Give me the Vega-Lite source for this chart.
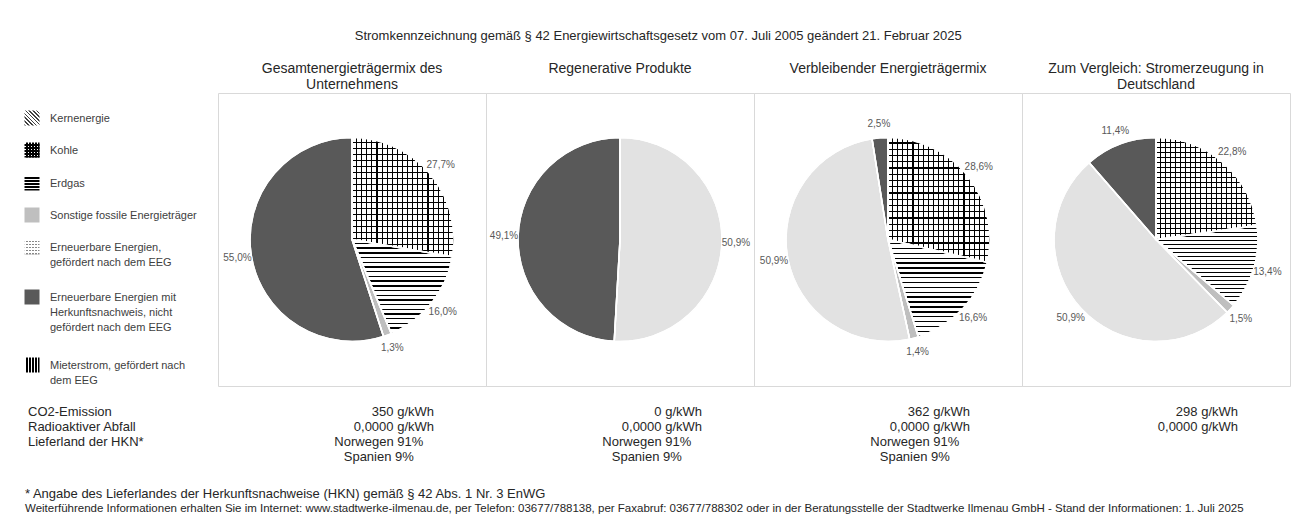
{
  "$schema": "https://vega.github.io/schema/vega-lite/v6.json",
  "padding": {"left": 8, "top": 29, "right": 0, "bottom": 0},
  "background": "white",
  "title": {"text": "Stromkennzeichnung gemäß § 42 Energiewirtschaftsgesetz vom 07. Juli 2005 geändert 21. Februar 2025", "anchor": "middle", "font": "Liberation Sans", "fontSize": 13, "fontWeight": "normal", "color": "#262626", "offset": 11.5, "dx": 9},
  "config": {
    "view": {"stroke": "#d9d9d9", "strokeWidth": 1},
    "font": "Liberation Sans",
    "locale": {"number": {"decimal": ",", "thousands": ".", "grouping": [3], "currency": ["", " €"]}}
  },
  "datasets": {
    "titles": [
      {"panel": "p1", "title": "Gesamtenergieträgermix des\nUnternehmens"},
      {"panel": "p2", "title": "Regenerative Produkte"},
      {"panel": "p3", "title": "Verbleibender Energieträgermix"},
      {"panel": "p4", "title": "Zum Vergleich: Stromerzeugung in\nDeutschland"}
    ],
    "mix": [
      {"panel": "p1", "cat": "Kohle", "ord": 2, "share": 0.277},
      {"panel": "p1", "cat": "Erdgas", "ord": 3, "share": 0.16},
      {"panel": "p1", "cat": "Sonstige", "ord": 4, "share": 0.013},
      {"panel": "p1", "cat": "HKN", "ord": 6, "share": 0.55},
      {"panel": "p2", "cat": "EEG", "ord": 5, "share": 0.509},
      {"panel": "p2", "cat": "HKN", "ord": 6, "share": 0.491},
      {"panel": "p3", "cat": "Kohle", "ord": 2, "share": 0.286},
      {"panel": "p3", "cat": "Erdgas", "ord": 3, "share": 0.166},
      {"panel": "p3", "cat": "Sonstige", "ord": 4, "share": 0.014},
      {"panel": "p3", "cat": "EEG", "ord": 5, "share": 0.509},
      {"panel": "p3", "cat": "HKN", "ord": 6, "share": 0.025},
      {"panel": "p4", "cat": "Kohle", "ord": 2, "share": 0.228},
      {"panel": "p4", "cat": "Erdgas", "ord": 3, "share": 0.134},
      {"panel": "p4", "cat": "Sonstige", "ord": 4, "share": 0.015},
      {"panel": "p4", "cat": "EEG", "ord": 5, "share": 0.509},
      {"panel": "p4", "cat": "HKN", "ord": 6, "share": 0.114}
    ],
    "legend": [
      {"cat": "Kern", "ord": 1, "label": "Kernenergie"},
      {"cat": "Kohle", "ord": 2, "label": "Kohle"},
      {"cat": "Erdgas", "ord": 3, "label": "Erdgas"},
      {"cat": "Sonstige", "ord": 4, "label": "Sonstige fossile Energieträger"},
      {"cat": "EEG", "ord": 5, "label": "Erneuerbare Energien,\ngefördert nach dem EEG"},
      {"cat": "HKN", "ord": 6, "label": "Erneuerbare Energien mit\nHerkunftsnachweis, nicht\ngefördert nach dem EEG"},
      {"cat": "Mieter", "ord": 7, "label": "Mieterstrom, gefördert nach\ndem EEG"}
    ],
    "rowlabels": [
      {"row": "co2", "label": "CO2-Emission"},
      {"row": "rad", "label": "Radioaktiver Abfall"},
      {"row": "land1", "label": "Lieferland der HKN*"}
    ],
    "table": [
      {"panel": "p1", "row": "co2", "text": "350 g/kWh"},
      {"panel": "p1", "row": "rad", "text": "0,0000 g/kWh"},
      {"panel": "p1", "row": "land1", "text": "Norwegen 91%"},
      {"panel": "p1", "row": "land2", "text": "Spanien 9%"},
      {"panel": "p2", "row": "co2", "text": "0 g/kWh"},
      {"panel": "p2", "row": "rad", "text": "0,0000 g/kWh"},
      {"panel": "p2", "row": "land1", "text": "Norwegen 91%"},
      {"panel": "p2", "row": "land2", "text": "Spanien 9%"},
      {"panel": "p3", "row": "co2", "text": "362 g/kWh"},
      {"panel": "p3", "row": "rad", "text": "0,0000 g/kWh"},
      {"panel": "p3", "row": "land1", "text": "Norwegen 91%"},
      {"panel": "p3", "row": "land2", "text": "Spanien 9%"},
      {"panel": "p4", "row": "co2", "text": "298 g/kWh"},
      {"panel": "p4", "row": "rad", "text": "0,0000 g/kWh"}
    ],
    "notes": [
      {"line": "f1", "text": "* Angabe des Lieferlandes der Herkunftsnachweise (HKN) gemäß § 42 Abs. 1 Nr. 3 EnWG"},
      {"line": "f2", "text": "Weiterführende Informationen erhalten Sie im Internet: www.stadtwerke-ilmenau.de, per Telefon: 03677/788138, per Faxabruf: 03677/788302 oder in der Beratungsstelle der Stadtwerke Ilmenau GmbH - Stand der Informationen: 1. Juli 2025"}
    ]
  },
  "bounds": "full",
  "spacing": 0,
  "vconcat": [
    {
      "width": 1282,
      "height": 30,
      "view": {"stroke": null},
      "data": {"name": "titles"},
      "mark": {"type": "text", "fontSize": 14, "lineBreak": "\n", "lineHeight": 16, "baseline": "middle", "align": "center", "color": "#262626"},
      "encoding": {
        "x": {"field": "panel", "type": "nominal", "axis": null, "scale": {"type": "band", "domain": ["p1", "p2", "p3", "p4"], "paddingInner": 0, "paddingOuter": 0.3918, "align": 1}},
        "text": {"field": "title"}
      }
    },
    {
      "hconcat": [
        {
          "width": 210,
          "height": 293,
          "view": {"stroke": null},
          "data": {"name": "legend"},
          "resolve": {"scale": {"x": "independent"}},
          "layer": [
            {
              "mark": {"type": "point", "shape": "square", "size": 225, "filled": true, "opacity": 1, "strokeWidth": 0},
              "encoding": {
                "x": {"datum": "icon", "type": "nominal", "axis": null, "scale": {"type": "point", "domain": ["icon"], "align": 0.1143}},
                "y": {"field": "ord", "type": "quantitative", "axis": null, "scale": {"domain": [1, 2, 3, 4, 5, 6, 7], "range": [25, 57, 90, 122, 154, 204, 272], "zero": false, "nice": false}},
                "color": {
                  "condition": [
                    {"test": "datum.cat === 'Kern'", "value": {"gradient": "linear", "x1": 1, "y1": 0, "x2": 0, "y2": 1, "stops": [
                      {"offset": 0, "color": "#fff"}, {"offset": 0.075, "color": "#fff"}, {"offset": 0.075, "color": "#404040"}, {"offset": 0.125, "color": "#404040"},
                      {"offset": 0.125, "color": "#fff"}, {"offset": 0.2, "color": "#fff"}, {"offset": 0.2, "color": "#404040"}, {"offset": 0.25, "color": "#404040"},
                      {"offset": 0.25, "color": "#fff"}, {"offset": 0.325, "color": "#fff"}, {"offset": 0.325, "color": "#404040"}, {"offset": 0.375, "color": "#404040"},
                      {"offset": 0.375, "color": "#fff"}, {"offset": 0.45, "color": "#fff"}, {"offset": 0.45, "color": "#404040"}, {"offset": 0.5, "color": "#404040"},
                      {"offset": 0.5, "color": "#fff"}, {"offset": 0.575, "color": "#fff"}, {"offset": 0.575, "color": "#404040"}, {"offset": 0.625, "color": "#404040"},
                      {"offset": 0.625, "color": "#fff"}, {"offset": 0.7, "color": "#fff"}, {"offset": 0.7, "color": "#404040"}, {"offset": 0.75, "color": "#404040"},
                      {"offset": 0.75, "color": "#fff"}, {"offset": 0.825, "color": "#fff"}, {"offset": 0.825, "color": "#404040"}, {"offset": 0.875, "color": "#404040"},
                      {"offset": 0.875, "color": "#fff"}, {"offset": 0.95, "color": "#fff"}, {"offset": 0.95, "color": "#404040"}, {"offset": 1, "color": "#404040"}]}},
                    {"test": "datum.cat === 'Kohle' || datum.cat === 'Erdgas'", "value": {"gradient": "linear", "x1": 0, "y1": 0, "x2": 0, "y2": 1, "stops": [
                      {"offset": 0, "color": "#fff"}, {"offset": 0.13, "color": "#fff"}, {"offset": 0.13, "color": "#000"}, {"offset": 0.2, "color": "#000"},
                      {"offset": 0.2, "color": "#fff"}, {"offset": 0.33, "color": "#fff"}, {"offset": 0.33, "color": "#000"}, {"offset": 0.4, "color": "#000"},
                      {"offset": 0.4, "color": "#fff"}, {"offset": 0.53, "color": "#fff"}, {"offset": 0.53, "color": "#000"}, {"offset": 0.6, "color": "#000"},
                      {"offset": 0.6, "color": "#fff"}, {"offset": 0.73, "color": "#fff"}, {"offset": 0.73, "color": "#000"}, {"offset": 0.8, "color": "#000"},
                      {"offset": 0.8, "color": "#fff"}, {"offset": 0.93, "color": "#fff"}, {"offset": 0.93, "color": "#000"}, {"offset": 1, "color": "#000"}]}},
                    {"test": "datum.cat === 'Sonstige'", "value": "#bfbfbf"},
                    {"test": "datum.cat === 'EEG'", "value": {"gradient": "linear", "x1": 0, "y1": 0, "x2": 0, "y2": 1, "stops": [
                      {"offset": 0, "color": "#fff"}, {"offset": 0.13, "color": "#fff"}, {"offset": 0.13, "color": "#888"}, {"offset": 0.2, "color": "#888"},
                      {"offset": 0.2, "color": "#fff"}, {"offset": 0.33, "color": "#fff"}, {"offset": 0.33, "color": "#888"}, {"offset": 0.4, "color": "#888"},
                      {"offset": 0.4, "color": "#fff"}, {"offset": 0.53, "color": "#fff"}, {"offset": 0.53, "color": "#888"}, {"offset": 0.6, "color": "#888"},
                      {"offset": 0.6, "color": "#fff"}, {"offset": 0.73, "color": "#fff"}, {"offset": 0.73, "color": "#888"}, {"offset": 0.8, "color": "#888"},
                      {"offset": 0.8, "color": "#fff"}, {"offset": 0.93, "color": "#fff"}, {"offset": 0.93, "color": "#888"}, {"offset": 1, "color": "#888"}]}},
                    {"test": "datum.cat === 'Mieter'", "value": {"gradient": "linear", "x1": 0, "y1": 0, "x2": 1, "y2": 0, "stops": [
                      {"offset": 0, "color": "#fff"}, {"offset": 0.12, "color": "#fff"}, {"offset": 0.12, "color": "#000"}, {"offset": 0.2, "color": "#000"},
                      {"offset": 0.2, "color": "#fff"}, {"offset": 0.32, "color": "#fff"}, {"offset": 0.32, "color": "#000"}, {"offset": 0.4, "color": "#000"},
                      {"offset": 0.4, "color": "#fff"}, {"offset": 0.52, "color": "#fff"}, {"offset": 0.52, "color": "#000"}, {"offset": 0.6, "color": "#000"},
                      {"offset": 0.6, "color": "#fff"}, {"offset": 0.72, "color": "#fff"}, {"offset": 0.72, "color": "#000"}, {"offset": 0.8, "color": "#000"},
                      {"offset": 0.8, "color": "#fff"}, {"offset": 0.92, "color": "#fff"}, {"offset": 0.92, "color": "#000"}, {"offset": 1, "color": "#000"}]}}
                  ],
                  "value": "#595959"
                }
              }
            },
            {
              "mark": {"type": "point", "shape": "square", "size": 225, "filled": true, "opacity": 1, "strokeWidth": 0},
              "encoding": {
                "x": {"datum": "icon", "type": "nominal", "axis": null, "scale": {"type": "point", "domain": ["icon"], "align": 0.1143}},
                "y": {"field": "ord", "type": "quantitative"},
                "color": {
                  "condition": [
                    {"test": "datum.cat === 'Kohle'", "value": {"gradient": "linear", "x1": 0, "y1": 0, "x2": 1, "y2": 0, "stops": [
                      {"offset": 0, "color": "rgba(0,0,0,0)"}, {"offset": 0.13, "color": "rgba(0,0,0,0)"}, {"offset": 0.13, "color": "#000"}, {"offset": 0.2, "color": "#000"},
                      {"offset": 0.2, "color": "rgba(0,0,0,0)"}, {"offset": 0.33, "color": "rgba(0,0,0,0)"}, {"offset": 0.33, "color": "#000"}, {"offset": 0.4, "color": "#000"},
                      {"offset": 0.4, "color": "rgba(0,0,0,0)"}, {"offset": 0.53, "color": "rgba(0,0,0,0)"}, {"offset": 0.53, "color": "#000"}, {"offset": 0.6, "color": "#000"},
                      {"offset": 0.6, "color": "rgba(0,0,0,0)"}, {"offset": 0.73, "color": "rgba(0,0,0,0)"}, {"offset": 0.73, "color": "#000"}, {"offset": 0.8, "color": "#000"},
                      {"offset": 0.8, "color": "rgba(0,0,0,0)"}, {"offset": 0.93, "color": "rgba(0,0,0,0)"}, {"offset": 0.93, "color": "#000"}, {"offset": 1, "color": "#000"}]}},
                    {"test": "datum.cat === 'EEG'", "value": {"gradient": "linear", "x1": 0, "y1": 0, "x2": 1, "y2": 0, "stops": [
                      {"offset": 0, "color": "#fff"}, {"offset": 0.13, "color": "#fff"}, {"offset": 0.13, "color": "rgba(0,0,0,0)"}, {"offset": 0.2, "color": "rgba(0,0,0,0)"},
                      {"offset": 0.2, "color": "#fff"}, {"offset": 0.33, "color": "#fff"}, {"offset": 0.33, "color": "rgba(0,0,0,0)"}, {"offset": 0.4, "color": "rgba(0,0,0,0)"},
                      {"offset": 0.4, "color": "#fff"}, {"offset": 0.53, "color": "#fff"}, {"offset": 0.53, "color": "rgba(0,0,0,0)"}, {"offset": 0.6, "color": "rgba(0,0,0,0)"},
                      {"offset": 0.6, "color": "#fff"}, {"offset": 0.73, "color": "#fff"}, {"offset": 0.73, "color": "rgba(0,0,0,0)"}, {"offset": 0.8, "color": "rgba(0,0,0,0)"},
                      {"offset": 0.8, "color": "#fff"}, {"offset": 0.93, "color": "#fff"}, {"offset": 0.93, "color": "rgba(0,0,0,0)"}, {"offset": 1, "color": "rgba(0,0,0,0)"}]}}
                  ],
                  "value": "rgba(0,0,0,0)"
                }
              }
            },
            {
              "mark": {"type": "text", "align": "left", "baseline": "alphabetic", "dy": 4, "fontSize": 11, "lineBreak": "\n", "lineHeight": 15, "color": "#404040"},
              "encoding": {
                "x": {"datum": "text", "type": "nominal", "axis": null, "scale": {"type": "point", "domain": ["text"], "align": 0.2}},
                "y": {"field": "ord", "type": "quantitative"},
                "text": {"field": "label"}
              }
            }
          ]
        },
        {
          "data": {"name": "mix"},
          "facet": {"column": {"field": "panel", "type": "nominal", "sort": ["p1", "p2", "p3", "p4"], "header": {"labels": false, "title": null}}},
          "spacing": 0,
          "bounds": "flush",
          "spec": {
            "width": 268,
            "height": 293,
            "view": {"stroke": "#d9d9d9", "strokeWidth": 1},
            "layer": [
              {
                "mark": {"type": "arc", "outerRadius": 102, "stroke": "white", "strokeWidth": 1.5},
                "encoding": {
                  "theta": {"field": "share", "type": "quantitative", "stack": true},
                  "order": {"field": "ord", "type": "quantitative"},
                  "color": {
                    "condition": [
                      {"test": "datum.cat === 'Kohle'", "value": {"gradient": "linear", "x1": 0, "y1": 0, "x2": 0, "y2": 1, "stops": [
                        {"offset": 0, "color": "#fff"}, {"offset": 0.04, "color": "#fff"}, {"offset": 0.04, "color": "#000"}, {"offset": 0.05, "color": "#000"},
                        {"offset": 0.05, "color": "#fff"}, {"offset": 0.09, "color": "#fff"}, {"offset": 0.09, "color": "#000"}, {"offset": 0.1, "color": "#000"},
                        {"offset": 0.1, "color": "#fff"}, {"offset": 0.14, "color": "#fff"}, {"offset": 0.14, "color": "#000"}, {"offset": 0.15, "color": "#000"},
                        {"offset": 0.15, "color": "#fff"}, {"offset": 0.19, "color": "#fff"}, {"offset": 0.19, "color": "#000"}, {"offset": 0.2, "color": "#000"},
                        {"offset": 0.2, "color": "#fff"}, {"offset": 0.24, "color": "#fff"}, {"offset": 0.24, "color": "#000"}, {"offset": 0.25, "color": "#000"},
                        {"offset": 0.25, "color": "#fff"}, {"offset": 0.29, "color": "#fff"}, {"offset": 0.29, "color": "#000"}, {"offset": 0.3, "color": "#000"},
                        {"offset": 0.3, "color": "#fff"}, {"offset": 0.34, "color": "#fff"}, {"offset": 0.34, "color": "#000"}, {"offset": 0.35, "color": "#000"},
                        {"offset": 0.35, "color": "#fff"}, {"offset": 0.39, "color": "#fff"}, {"offset": 0.39, "color": "#000"}, {"offset": 0.4, "color": "#000"},
                        {"offset": 0.4, "color": "#fff"}, {"offset": 0.44, "color": "#fff"}, {"offset": 0.44, "color": "#000"}, {"offset": 0.45, "color": "#000"},
                        {"offset": 0.45, "color": "#fff"}, {"offset": 0.49, "color": "#fff"}, {"offset": 0.49, "color": "#000"}, {"offset": 0.5, "color": "#000"},
                        {"offset": 0.5, "color": "#fff"}, {"offset": 0.54, "color": "#fff"}, {"offset": 0.54, "color": "#000"}, {"offset": 0.55, "color": "#000"},
                        {"offset": 0.55, "color": "#fff"}, {"offset": 0.59, "color": "#fff"}, {"offset": 0.59, "color": "#000"}, {"offset": 0.6, "color": "#000"},
                        {"offset": 0.6, "color": "#fff"}, {"offset": 0.64, "color": "#fff"}, {"offset": 0.64, "color": "#000"}, {"offset": 0.65, "color": "#000"},
                        {"offset": 0.65, "color": "#fff"}, {"offset": 0.69, "color": "#fff"}, {"offset": 0.69, "color": "#000"}, {"offset": 0.7, "color": "#000"},
                        {"offset": 0.7, "color": "#fff"}, {"offset": 0.74, "color": "#fff"}, {"offset": 0.74, "color": "#000"}, {"offset": 0.75, "color": "#000"},
                        {"offset": 0.75, "color": "#fff"}, {"offset": 0.79, "color": "#fff"}, {"offset": 0.79, "color": "#000"}, {"offset": 0.8, "color": "#000"},
                        {"offset": 0.8, "color": "#fff"}, {"offset": 0.84, "color": "#fff"}, {"offset": 0.84, "color": "#000"}, {"offset": 0.85, "color": "#000"},
                        {"offset": 0.85, "color": "#fff"}, {"offset": 0.89, "color": "#fff"}, {"offset": 0.89, "color": "#000"}, {"offset": 0.9, "color": "#000"},
                        {"offset": 0.9, "color": "#fff"}, {"offset": 0.94, "color": "#fff"}, {"offset": 0.94, "color": "#000"}, {"offset": 0.95, "color": "#000"},
                        {"offset": 0.95, "color": "#fff"}, {"offset": 0.99, "color": "#fff"}, {"offset": 0.99, "color": "#000"}, {"offset": 1, "color": "#000"}]}},
                      {"test": "datum.cat === 'Erdgas'", "value": {"gradient": "linear", "x1": 0, "y1": 0, "x2": 0, "y2": 1, "stops": [
                        {"offset": 0, "color": "#fff"}, {"offset": 0.035, "color": "#fff"}, {"offset": 0.035, "color": "#000"}, {"offset": 0.05, "color": "#000"},
                        {"offset": 0.05, "color": "#fff"}, {"offset": 0.085, "color": "#fff"}, {"offset": 0.085, "color": "#000"}, {"offset": 0.1, "color": "#000"},
                        {"offset": 0.1, "color": "#fff"}, {"offset": 0.135, "color": "#fff"}, {"offset": 0.135, "color": "#000"}, {"offset": 0.15, "color": "#000"},
                        {"offset": 0.15, "color": "#fff"}, {"offset": 0.185, "color": "#fff"}, {"offset": 0.185, "color": "#000"}, {"offset": 0.2, "color": "#000"},
                        {"offset": 0.2, "color": "#fff"}, {"offset": 0.235, "color": "#fff"}, {"offset": 0.235, "color": "#000"}, {"offset": 0.25, "color": "#000"},
                        {"offset": 0.25, "color": "#fff"}, {"offset": 0.285, "color": "#fff"}, {"offset": 0.285, "color": "#000"}, {"offset": 0.3, "color": "#000"},
                        {"offset": 0.3, "color": "#fff"}, {"offset": 0.335, "color": "#fff"}, {"offset": 0.335, "color": "#000"}, {"offset": 0.35, "color": "#000"},
                        {"offset": 0.35, "color": "#fff"}, {"offset": 0.385, "color": "#fff"}, {"offset": 0.385, "color": "#000"}, {"offset": 0.4, "color": "#000"},
                        {"offset": 0.4, "color": "#fff"}, {"offset": 0.435, "color": "#fff"}, {"offset": 0.435, "color": "#000"}, {"offset": 0.45, "color": "#000"},
                        {"offset": 0.45, "color": "#fff"}, {"offset": 0.485, "color": "#fff"}, {"offset": 0.485, "color": "#000"}, {"offset": 0.5, "color": "#000"},
                        {"offset": 0.5, "color": "#fff"}, {"offset": 0.535, "color": "#fff"}, {"offset": 0.535, "color": "#000"}, {"offset": 0.55, "color": "#000"},
                        {"offset": 0.55, "color": "#fff"}, {"offset": 0.585, "color": "#fff"}, {"offset": 0.585, "color": "#000"}, {"offset": 0.6, "color": "#000"},
                        {"offset": 0.6, "color": "#fff"}, {"offset": 0.635, "color": "#fff"}, {"offset": 0.635, "color": "#000"}, {"offset": 0.65, "color": "#000"},
                        {"offset": 0.65, "color": "#fff"}, {"offset": 0.685, "color": "#fff"}, {"offset": 0.685, "color": "#000"}, {"offset": 0.7, "color": "#000"},
                        {"offset": 0.7, "color": "#fff"}, {"offset": 0.735, "color": "#fff"}, {"offset": 0.735, "color": "#000"}, {"offset": 0.75, "color": "#000"},
                        {"offset": 0.75, "color": "#fff"}, {"offset": 0.785, "color": "#fff"}, {"offset": 0.785, "color": "#000"}, {"offset": 0.8, "color": "#000"},
                        {"offset": 0.8, "color": "#fff"}, {"offset": 0.835, "color": "#fff"}, {"offset": 0.835, "color": "#000"}, {"offset": 0.85, "color": "#000"},
                        {"offset": 0.85, "color": "#fff"}, {"offset": 0.885, "color": "#fff"}, {"offset": 0.885, "color": "#000"}, {"offset": 0.9, "color": "#000"},
                        {"offset": 0.9, "color": "#fff"}, {"offset": 0.935, "color": "#fff"}, {"offset": 0.935, "color": "#000"}, {"offset": 0.95, "color": "#000"},
                        {"offset": 0.95, "color": "#fff"}, {"offset": 0.985, "color": "#fff"}, {"offset": 0.985, "color": "#000"}, {"offset": 1, "color": "#000"}]}},
                      {"test": "datum.cat === 'Sonstige'", "value": "#bfbfbf"},
                      {"test": "datum.cat === 'EEG'", "value": "#e2e2e2"}
                    ],
                    "value": "#595959"
                  }
                }
              },
              {
                "mark": {"type": "arc", "outerRadius": 102, "stroke": "white", "strokeWidth": 1.5},
                "encoding": {
                  "theta": {"field": "share", "type": "quantitative", "stack": true},
                  "order": {"field": "ord", "type": "quantitative"},
                  "color": {
                    "condition": {"test": "datum.cat === 'Kohle'", "value": {"gradient": "linear", "x1": 0, "y1": 0, "x2": 1, "y2": 0, "stops": [
                      {"offset": 0, "color": "rgba(0,0,0,0)"}, {"offset": 0.04, "color": "rgba(0,0,0,0)"}, {"offset": 0.04, "color": "#000"}, {"offset": 0.05, "color": "#000"},
                      {"offset": 0.05, "color": "rgba(0,0,0,0)"}, {"offset": 0.09, "color": "rgba(0,0,0,0)"}, {"offset": 0.09, "color": "#000"}, {"offset": 0.1, "color": "#000"},
                      {"offset": 0.1, "color": "rgba(0,0,0,0)"}, {"offset": 0.14, "color": "rgba(0,0,0,0)"}, {"offset": 0.14, "color": "#000"}, {"offset": 0.15, "color": "#000"},
                      {"offset": 0.15, "color": "rgba(0,0,0,0)"}, {"offset": 0.19, "color": "rgba(0,0,0,0)"}, {"offset": 0.19, "color": "#000"}, {"offset": 0.2, "color": "#000"},
                      {"offset": 0.2, "color": "rgba(0,0,0,0)"}, {"offset": 0.24, "color": "rgba(0,0,0,0)"}, {"offset": 0.24, "color": "#000"}, {"offset": 0.25, "color": "#000"},
                      {"offset": 0.25, "color": "rgba(0,0,0,0)"}, {"offset": 0.29, "color": "rgba(0,0,0,0)"}, {"offset": 0.29, "color": "#000"}, {"offset": 0.3, "color": "#000"},
                      {"offset": 0.3, "color": "rgba(0,0,0,0)"}, {"offset": 0.34, "color": "rgba(0,0,0,0)"}, {"offset": 0.34, "color": "#000"}, {"offset": 0.35, "color": "#000"},
                      {"offset": 0.35, "color": "rgba(0,0,0,0)"}, {"offset": 0.39, "color": "rgba(0,0,0,0)"}, {"offset": 0.39, "color": "#000"}, {"offset": 0.4, "color": "#000"},
                      {"offset": 0.4, "color": "rgba(0,0,0,0)"}, {"offset": 0.44, "color": "rgba(0,0,0,0)"}, {"offset": 0.44, "color": "#000"}, {"offset": 0.45, "color": "#000"},
                      {"offset": 0.45, "color": "rgba(0,0,0,0)"}, {"offset": 0.49, "color": "rgba(0,0,0,0)"}, {"offset": 0.49, "color": "#000"}, {"offset": 0.5, "color": "#000"},
                      {"offset": 0.5, "color": "rgba(0,0,0,0)"}, {"offset": 0.54, "color": "rgba(0,0,0,0)"}, {"offset": 0.54, "color": "#000"}, {"offset": 0.55, "color": "#000"},
                      {"offset": 0.55, "color": "rgba(0,0,0,0)"}, {"offset": 0.59, "color": "rgba(0,0,0,0)"}, {"offset": 0.59, "color": "#000"}, {"offset": 0.6, "color": "#000"},
                      {"offset": 0.6, "color": "rgba(0,0,0,0)"}, {"offset": 0.64, "color": "rgba(0,0,0,0)"}, {"offset": 0.64, "color": "#000"}, {"offset": 0.65, "color": "#000"},
                      {"offset": 0.65, "color": "rgba(0,0,0,0)"}, {"offset": 0.69, "color": "rgba(0,0,0,0)"}, {"offset": 0.69, "color": "#000"}, {"offset": 0.7, "color": "#000"},
                      {"offset": 0.7, "color": "rgba(0,0,0,0)"}, {"offset": 0.74, "color": "rgba(0,0,0,0)"}, {"offset": 0.74, "color": "#000"}, {"offset": 0.75, "color": "#000"},
                      {"offset": 0.75, "color": "rgba(0,0,0,0)"}, {"offset": 0.79, "color": "rgba(0,0,0,0)"}, {"offset": 0.79, "color": "#000"}, {"offset": 0.8, "color": "#000"},
                      {"offset": 0.8, "color": "rgba(0,0,0,0)"}, {"offset": 0.84, "color": "rgba(0,0,0,0)"}, {"offset": 0.84, "color": "#000"}, {"offset": 0.85, "color": "#000"},
                      {"offset": 0.85, "color": "rgba(0,0,0,0)"}, {"offset": 0.89, "color": "rgba(0,0,0,0)"}, {"offset": 0.89, "color": "#000"}, {"offset": 0.9, "color": "#000"},
                      {"offset": 0.9, "color": "rgba(0,0,0,0)"}, {"offset": 0.94, "color": "rgba(0,0,0,0)"}, {"offset": 0.94, "color": "#000"}, {"offset": 0.95, "color": "#000"},
                      {"offset": 0.95, "color": "rgba(0,0,0,0)"}, {"offset": 0.99, "color": "rgba(0,0,0,0)"}, {"offset": 0.99, "color": "#000"}, {"offset": 1, "color": "#000"}]}},
                    "value": "rgba(0,0,0,0)"
                  }
                }
              },
              {
                "mark": {"type": "text", "radius": 116, "fontSize": 10, "color": "#595959", "align": "center", "baseline": "middle"},
                "encoding": {
                  "theta": {"field": "share", "type": "quantitative", "stack": true},
                  "order": {"field": "ord", "type": "quantitative"},
                  "text": {"field": "share", "type": "quantitative", "format": ".1%"}
                }
              }
            ]
          }
        }
      ],
      "spacing": 0,
      "bounds": "flush"
    },
    {
      "hconcat": [
        {
          "width": 210,
          "height": 95,
          "view": {"stroke": null},
          "data": {"name": "rowlabels"},
          "mark": {"type": "text", "align": "left", "baseline": "middle", "fontSize": 13, "color": "#262626"},
          "encoding": {
            "x": {"datum": "label", "type": "nominal", "axis": null, "scale": {"type": "point", "domain": ["label"], "align": 0.0952}},
            "y": {"field": "row", "type": "nominal", "axis": null, "scale": {"type": "point", "domain": ["co2", "rad", "land1", "land2"], "range": [25, 70], "padding": 0}},
            "text": {"field": "label"}
          }
        },
        {
          "width": 1072,
          "height": 95,
          "view": {"stroke": null},
          "data": {"name": "table"},
          "layer": [
            {
              "transform": [{"filter": "datum.row === 'co2' || datum.row === 'rad'"}],
              "mark": {"type": "text", "align": "right", "baseline": "middle", "fontSize": 13, "color": "#262626"},
              "encoding": {
                "x": {"field": "panel", "type": "nominal", "axis": null, "bandPosition": 0.806, "scale": {"type": "band", "domain": ["p1", "p2", "p3", "p4"], "paddingInner": 0, "paddingOuter": 0}},
                "y": {"field": "row", "type": "nominal", "axis": null, "scale": {"type": "point", "domain": ["co2", "rad", "land1", "land2"], "range": [25, 70], "padding": 0}},
                "text": {"field": "text"}
              }
            },
            {
              "transform": [{"filter": "datum.row === 'land1' || datum.row === 'land2'"}],
              "mark": {"type": "text", "align": "center", "baseline": "middle", "fontSize": 13, "color": "#262626"},
              "encoding": {
                "x": {"field": "panel", "type": "nominal", "bandPosition": 0.6},
                "y": {"field": "row", "type": "nominal"},
                "text": {"field": "text"}
              }
            }
          ]
        }
      ],
      "spacing": 0,
      "bounds": "flush"
    },
    {
      "width": 1282,
      "height": 39,
      "view": {"stroke": null},
      "data": {"name": "notes"},
      "mark": {"type": "text", "align": "left", "baseline": "middle", "color": "#262626"},
      "encoding": {
        "x": {"datum": "note", "type": "nominal", "axis": null, "scale": {"type": "point", "domain": ["note"], "align": 0.01326}},
        "y": {"field": "line", "type": "nominal", "axis": null, "scale": {"type": "point", "domain": ["f1", "f2"], "range": [12, 27], "padding": 0}},
        "size": {"condition": {"test": "datum.line === 'f2'", "value": 11.5}, "value": 13},
        "text": {"field": "text"}
      }
    }
  ]
}
